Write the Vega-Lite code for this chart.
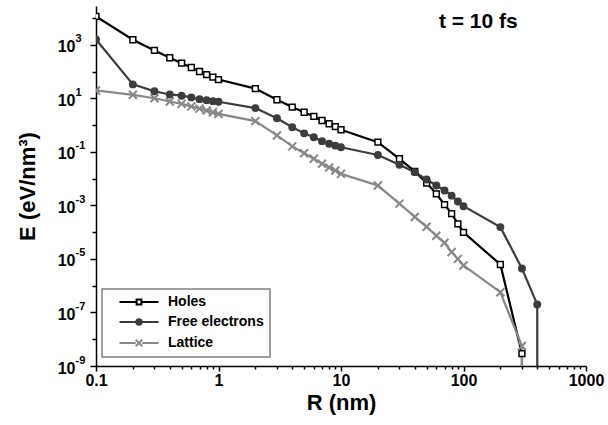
{
  "$schema": "https://vega.github.io/schema/vega-lite/v6.json",
  "width": 490,
  "height": 360,
  "autosize": {"type": "none"},
  "padding": {"left": 96, "top": 6, "right": 22, "bottom": 59},
  "config": {
    "view": {"stroke": null},
    "font": "Liberation Sans",
    "axis": {"grid": false, "domainColor": "#000000", "domainWidth": 1.5, "tickColor": "#000000", "tickWidth": 1.5, "labelColor": "#000000", "labelFont": "Liberation Sans", "labelFontWeight": "bold", "titleFont": "Liberation Sans", "titleFontWeight": "bold", "titleColor": "#000000", "labelOverlap": false},
    "legend": {"strokeWidth": 1.5}
  },
  "datasets": {
    "d": [
      {"S": "Holes", "R": 0.1, "E": 11500, "i": 0},
      {"S": "Holes", "R": 0.2, "E": 1540, "i": 1},
      {"S": "Holes", "R": 0.3, "E": 612, "i": 2},
      {"S": "Holes", "R": 0.4, "E": 327, "i": 3},
      {"S": "Holes", "R": 0.5, "E": 205, "i": 4},
      {"S": "Holes", "R": 0.6, "E": 141, "i": 5},
      {"S": "Holes", "R": 0.7, "E": 100, "i": 6},
      {"S": "Holes", "R": 0.8, "E": 77, "i": 7},
      {"S": "Holes", "R": 0.9, "E": 62, "i": 8},
      {"S": "Holes", "R": 1, "E": 50, "i": 9},
      {"S": "Holes", "R": 2, "E": 23, "i": 10},
      {"S": "Holes", "R": 3, "E": 8.8, "i": 11},
      {"S": "Holes", "R": 4, "E": 4.7, "i": 12},
      {"S": "Holes", "R": 5, "E": 3.0, "i": 13},
      {"S": "Holes", "R": 6, "E": 2.1, "i": 14},
      {"S": "Holes", "R": 7, "E": 1.48, "i": 15},
      {"S": "Holes", "R": 8, "E": 1.12, "i": 16},
      {"S": "Holes", "R": 9, "E": 0.87, "i": 17},
      {"S": "Holes", "R": 10, "E": 0.67, "i": 18},
      {"S": "Holes", "R": 20, "E": 0.23, "i": 19},
      {"S": "Holes", "R": 30, "E": 0.055, "i": 20},
      {"S": "Holes", "R": 40, "E": 0.0186, "i": 21},
      {"S": "Holes", "R": 50, "E": 0.0068, "i": 22},
      {"S": "Holes", "R": 60, "E": 0.0027, "i": 23},
      {"S": "Holes", "R": 70, "E": 0.00107, "i": 24},
      {"S": "Holes", "R": 80, "E": 0.00049, "i": 25},
      {"S": "Holes", "R": 90, "E": 0.000205, "i": 26},
      {"S": "Holes", "R": 100, "E": 0.000098, "i": 27},
      {"S": "Holes", "R": 200, "E": 0.0000062, "i": 28},
      {"S": "Holes", "R": 300, "E": 2.9e-9, "i": 29},
      {"S": "Holes", "R": 300, "E": 1e-12, "i": 30},
      {"S": "Free electrons", "R": 0.1, "E": 1580, "i": 0},
      {"S": "Free electrons", "R": 0.2, "E": 33, "i": 1},
      {"S": "Free electrons", "R": 0.3, "E": 18.3, "i": 2},
      {"S": "Free electrons", "R": 0.4, "E": 13.9, "i": 3},
      {"S": "Free electrons", "R": 0.5, "E": 12.5, "i": 4},
      {"S": "Free electrons", "R": 0.6, "E": 10.8, "i": 5},
      {"S": "Free electrons", "R": 0.7, "E": 9.3, "i": 6},
      {"S": "Free electrons", "R": 0.8, "E": 8.5, "i": 7},
      {"S": "Free electrons", "R": 0.9, "E": 7.8, "i": 8},
      {"S": "Free electrons", "R": 1, "E": 7.4, "i": 9},
      {"S": "Free electrons", "R": 2, "E": 4.3, "i": 10},
      {"S": "Free electrons", "R": 3, "E": 1.8, "i": 11},
      {"S": "Free electrons", "R": 4, "E": 0.83, "i": 12},
      {"S": "Free electrons", "R": 5, "E": 0.49, "i": 13},
      {"S": "Free electrons", "R": 6, "E": 0.35, "i": 14},
      {"S": "Free electrons", "R": 7, "E": 0.25, "i": 15},
      {"S": "Free electrons", "R": 8, "E": 0.2, "i": 16},
      {"S": "Free electrons", "R": 9, "E": 0.17, "i": 17},
      {"S": "Free electrons", "R": 10, "E": 0.148, "i": 18},
      {"S": "Free electrons", "R": 20, "E": 0.076, "i": 19},
      {"S": "Free electrons", "R": 30, "E": 0.033, "i": 20},
      {"S": "Free electrons", "R": 40, "E": 0.0174, "i": 21},
      {"S": "Free electrons", "R": 50, "E": 0.0093, "i": 22},
      {"S": "Free electrons", "R": 60, "E": 0.0055, "i": 23},
      {"S": "Free electrons", "R": 70, "E": 0.0036, "i": 24},
      {"S": "Free electrons", "R": 80, "E": 0.0023, "i": 25},
      {"S": "Free electrons", "R": 90, "E": 0.0014, "i": 26},
      {"S": "Free electrons", "R": 100, "E": 0.00093, "i": 27},
      {"S": "Free electrons", "R": 200, "E": 0.000154, "i": 28},
      {"S": "Free electrons", "R": 300, "E": 4.4e-6, "i": 29},
      {"S": "Free electrons", "R": 400, "E": 2.0e-7, "i": 30},
      {"S": "Free electrons", "R": 400, "E": 1e-12, "i": 31},
      {"S": "Lattice", "R": 0.1, "E": 19.6, "i": 0},
      {"S": "Lattice", "R": 0.2, "E": 13.5, "i": 1},
      {"S": "Lattice", "R": 0.3, "E": 10, "i": 2},
      {"S": "Lattice", "R": 0.4, "E": 7.6, "i": 3},
      {"S": "Lattice", "R": 0.5, "E": 6.2, "i": 4},
      {"S": "Lattice", "R": 0.6, "E": 5.0, "i": 5},
      {"S": "Lattice", "R": 0.7, "E": 4.1, "i": 6},
      {"S": "Lattice", "R": 0.8, "E": 3.5, "i": 7},
      {"S": "Lattice", "R": 0.9, "E": 3.0, "i": 8},
      {"S": "Lattice", "R": 1, "E": 2.6, "i": 9},
      {"S": "Lattice", "R": 2, "E": 1.4, "i": 10},
      {"S": "Lattice", "R": 3, "E": 0.41, "i": 11},
      {"S": "Lattice", "R": 4, "E": 0.16, "i": 12},
      {"S": "Lattice", "R": 5, "E": 0.089, "i": 13},
      {"S": "Lattice", "R": 6, "E": 0.055, "i": 14},
      {"S": "Lattice", "R": 7, "E": 0.036, "i": 15},
      {"S": "Lattice", "R": 8, "E": 0.026, "i": 16},
      {"S": "Lattice", "R": 9, "E": 0.02, "i": 17},
      {"S": "Lattice", "R": 10, "E": 0.015, "i": 18},
      {"S": "Lattice", "R": 20, "E": 0.0055, "i": 19},
      {"S": "Lattice", "R": 30, "E": 0.00116, "i": 20},
      {"S": "Lattice", "R": 40, "E": 0.00037, "i": 21},
      {"S": "Lattice", "R": 50, "E": 0.000158, "i": 22},
      {"S": "Lattice", "R": 60, "E": 0.000073, "i": 23},
      {"S": "Lattice", "R": 70, "E": 0.00004, "i": 24},
      {"S": "Lattice", "R": 80, "E": 0.000018, "i": 25},
      {"S": "Lattice", "R": 90, "E": 0.00001, "i": 26},
      {"S": "Lattice", "R": 100, "E": 5.7e-6, "i": 27},
      {"S": "Lattice", "R": 200, "E": 5.7e-7, "i": 28},
      {"S": "Lattice", "R": 300, "E": 5.6e-9, "i": 29},
      {"S": "Lattice", "R": 300, "E": 1e-12, "i": 30}
    ]
  },
  "data": {"name": "d"},
  "resolve": {"axis": {"y": "independent"}},
  "layer": [
    {
      "transform": [{"filter": "datum.S == 'Holes'"}],
      "mark": {"type": "line", "clip": true, "strokeWidth": 2.2, "color": "#000000"},
      "encoding": {
        "x": {
          "field": "R", "type": "quantitative",
          "scale": {"type": "log", "domain": [0.1, 1000], "nice": false},
          "axis": {
            "title": "R (nm)", "titleFontSize": 22, "titlePadding": 4,
            "values": [0.1, 0.2, 0.3, 0.4, 0.5, 0.6, 0.7, 0.8, 0.9, 1, 2, 3, 4, 5, 6, 7, 8, 9, 10, 20, 30, 40, 50, 60, 70, 80, 90, 100, 200, 300, 400, 500, 600, 700, 800, 900, 1000],
            "labelExpr": "abs(log(datum.value)/LN10 - round(log(datum.value)/LN10)) < 0.000001 ? '' + datum.value : ''",
            "tickSize": {"condition": {"test": "abs(log(datum.value)/LN10 - round(log(datum.value)/LN10)) < 0.000001", "value": 5}, "value": 3},
            "labelFontSize": 16, "labelPadding": 1, "labelFlush": false
          }
        },
        "y": {
          "field": "E", "type": "quantitative",
          "scale": {"type": "log", "domain": [1e-9, 28000], "nice": false},
          "axis": {
            "orient": "left", "title": "E (eV/nm³)", "titleFontSize": 22, "titlePadding": 18,
            "values": [1e-9, 1e-8, 1e-7, 1e-6, 1e-5, 1e-4, 1e-3, 0.01, 0.1, 1, 10, 100, 1000, 10000],
            "labelExpr": "round(log(datum.value)/LN10) % 2 != 0 ? '10' : ''",
            "tickSize": {"condition": {"test": "round(log(datum.value)/LN10) % 2 != 0", "value": 6}, "value": 4},
            "labelFontSize": 16, "labelPadding": 15, "labelOffset": 2, "labelFlush": false
          }
        },
        "order": {"field": "i", "type": "quantitative"}
      }
    },
    {
      "transform": [{"filter": "datum.S == 'Free electrons'"}],
      "mark": {"type": "line", "clip": true, "strokeWidth": 2.2, "color": "#3c3c3c"},
      "encoding": {
        "x": {"field": "R", "type": "quantitative"},
        "y": {"field": "E", "type": "quantitative", "axis": null},
        "order": {"field": "i", "type": "quantitative"}
      }
    },
    {
      "transform": [{"filter": "datum.S == 'Lattice'"}],
      "mark": {"type": "line", "clip": true, "strokeWidth": 2.2, "color": "#888888"},
      "encoding": {
        "x": {"field": "R", "type": "quantitative"},
        "y": {"field": "E", "type": "quantitative", "axis": null},
        "order": {"field": "i", "type": "quantitative"}
      }
    },
    {
      "transform": [{"filter": "datum.S == 'Holes' && datum.E > 1e-10"}],
      "mark": {"type": "point", "shape": "square", "filled": false, "fill": "#ffffff", "stroke": "#000000", "strokeWidth": 1.5, "size": 34, "opacity": 1, "clip": true},
      "encoding": {
        "x": {"field": "R", "type": "quantitative"},
        "y": {"field": "E", "type": "quantitative", "axis": null}
      }
    },
    {
      "transform": [{"filter": "datum.S == 'Free electrons' && datum.E > 1e-10"}],
      "mark": {"type": "point", "shape": "circle", "filled": true, "color": "#3c3c3c", "size": 62, "opacity": 1, "clip": true},
      "encoding": {
        "x": {"field": "R", "type": "quantitative"},
        "y": {"field": "E", "type": "quantitative", "axis": null}
      }
    },
    {
      "transform": [{"filter": "datum.S == 'Lattice' && datum.E > 1e-10"}],
      "mark": {"type": "point", "shape": "M-1,-1L1,1M-1,1L1,-1", "filled": false, "stroke": "#888888", "strokeWidth": 2, "size": 64, "opacity": 1, "clip": true},
      "encoding": {
        "x": {"field": "R", "type": "quantitative"},
        "y": {"field": "E", "type": "quantitative", "axis": null}
      }
    },
    {
      "transform": [{"filter": "datum.E < 0"}],
      "mark": {"type": "point", "strokeWidth": 2, "opacity": 1},
      "encoding": {
        "x": {"field": "R", "type": "quantitative"},
        "y": {
          "field": "E", "type": "quantitative",
          "axis": {
            "orient": "left", "title": null, "domain": false, "ticks": false,
            "values": [1e-9, 1e-7, 1e-5, 1e-3, 0.1, 10, 1000],
            "labelExpr": "'' + round(log(datum.value)/LN10)",
            "labelAlign": "left", "labelBaseline": "middle", "labelFontSize": 11,
            "labelPadding": 21, "labelOffset": -6, "labelFlush": false
          }
        },
        "shape": {
          "field": "S", "type": "nominal",
          "scale": {"domain": ["Holes", "Free electrons", "Lattice"], "range": ["M-6.5,0H-0.8M0.8,0H6.5M-0.8,-0.8H0.8V0.8H-0.8Z", "M-6.5,0H-0.9M0.9,0H6.5M0.9,0A0.9,0.9,0,1,1,-0.9,0A0.9,0.9,0,1,1,0.9,0Z", "M-6.5,0H-1.1M1.1,0H6.5M-1.1,-1.1L1.1,1.1M-1.1,1.1L1.1,-1.1"]},
          "legend": {"title": null, "orient": "none", "legendX": 6, "legendY": 283, "strokeColor": "#808080", "padding": 6, "symbolSize": 36, "symbolStrokeWidth": 2, "symbolOffset": 24, "labelOffset": 22, "labelFont": "Liberation Sans", "labelFontSize": 14, "labelFontWeight": "bold", "labelColor": "#000000", "rowPadding": 6, "symbolOpacity": 1}
        },
        "stroke": {
          "field": "S", "type": "nominal",
          "scale": {"domain": ["Holes", "Free electrons", "Lattice"], "range": ["#000000", "#3c3c3c", "#888888"]},
          "legend": {"title": null, "orient": "none", "legendX": 6, "legendY": 283, "strokeColor": "#808080", "padding": 6, "symbolSize": 36, "symbolStrokeWidth": 2, "symbolOffset": 24, "labelOffset": 22, "labelFont": "Liberation Sans", "labelFontSize": 14, "labelFontWeight": "bold", "labelColor": "#000000", "rowPadding": 6, "symbolOpacity": 1}
        },
        "fill": {
          "field": "S", "type": "nominal",
          "scale": {"domain": ["Holes", "Free electrons", "Lattice"], "range": ["#ffffff", "#3c3c3c", "transparent"]},
          "legend": {"title": null, "orient": "none", "legendX": 6, "legendY": 283, "strokeColor": "#808080", "padding": 6, "symbolSize": 36, "symbolStrokeWidth": 2, "symbolOffset": 24, "labelOffset": 22, "labelFont": "Liberation Sans", "labelFontSize": 14, "labelFontWeight": "bold", "labelColor": "#000000", "rowPadding": 6, "symbolOpacity": 1}
        }
      }
    },
    {
      "data": {"values": [{"label": "t = 10 fs", "R": 132, "E": 7000}]},
      "mark": {"type": "text", "fontSize": 21, "fontWeight": "bold", "font": "Liberation Sans", "align": "center", "baseline": "middle", "color": "#000000"},
      "encoding": {
        "x": {"field": "R", "type": "quantitative"},
        "y": {"field": "E", "type": "quantitative", "axis": null},
        "text": {"field": "label"}
      }
    }
  ]
}
